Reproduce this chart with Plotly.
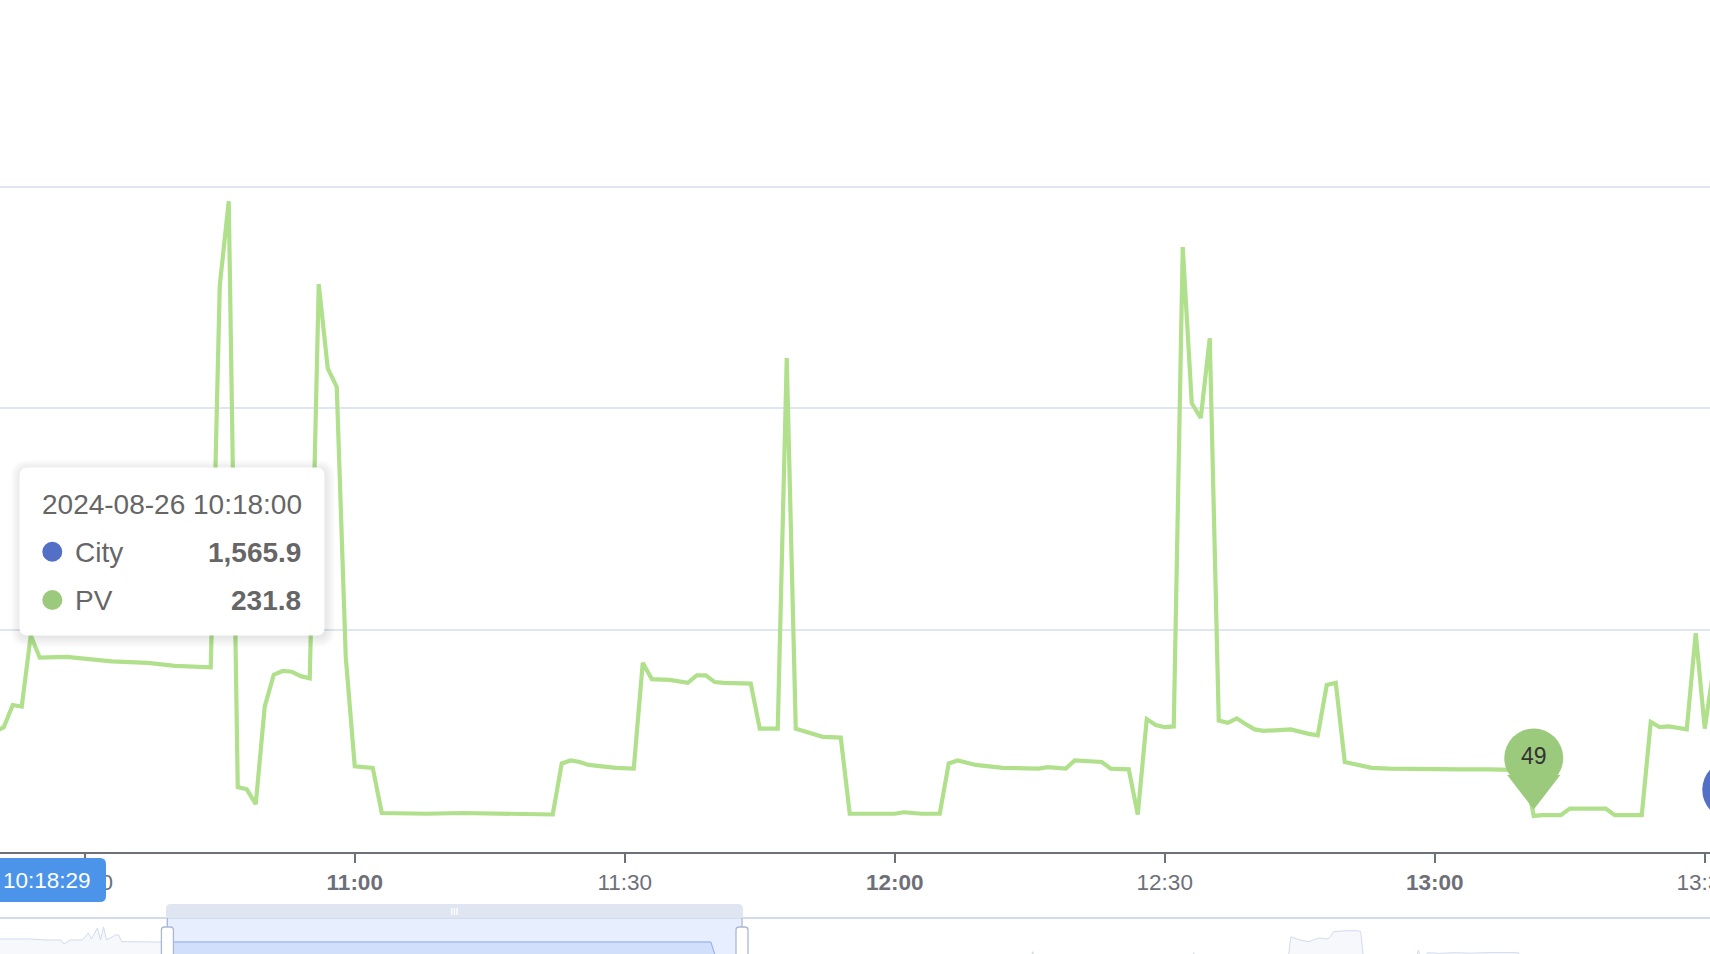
import plotly.graph_objects as go
import pandas as pd

W, H = 1710, 954
DAY = "2024-08-26"

# ---------------- data ----------------
pv_time = ["10:20", "10:21", "10:22", "10:23", "10:24", "10:25", "10:28", "10:33", "10:37", "10:40",
           "10:44", "10:45", "10:46", "10:47", "10:48", "10:49", "10:50", "10:51", "10:52", "10:53",
           "10:54", "10:55", "10:56", "10:57", "10:58", "10:59", "11:00", "11:02", "11:03", "11:08",
           "11:12", "11:16", "11:20", "11:22", "11:23", "11:24", "11:25", "11:26", "11:29", "11:31",
           "11:32", "11:33", "11:35", "11:37", "11:38", "11:39", "11:40", "11:41", "11:44", "11:45",
           "11:47", "11:48", "11:49", "11:51", "11:52", "11:54", "11:55", "11:56", "12:00", "12:01",
           "12:03", "12:05", "12:06", "12:07", "12:09", "12:12", "12:16", "12:17", "12:19", "12:20",
           "12:23", "12:24", "12:26", "12:27", "12:28", "12:29", "12:30", "12:31", "12:32", "12:33",
           "12:34", "12:35", "12:36", "12:37", "12:38", "12:39", "12:40", "12:41", "12:44", "12:46",
           "12:47", "12:48", "12:49", "12:50", "12:51", "12:53", "12:55", "12:59", "13:03", "13:06",
           "13:10", "13:11", "13:12", "13:14", "13:15", "13:19", "13:20", "13:23", "13:24", "13:25",
           "13:26", "13:28", "13:29", "13:30", "13:31"]
pv_value = [163, 169, 199, 197, 293, 263, 264, 258, 256, 252,
            250, 766, 880, 88, 85, 65, 197, 240, 245, 244,
            238, 235, 768, 654, 629, 264, 116, 114, 53, 52,
            53, 52, 52, 51, 120, 124, 122, 118, 114, 113,
            256, 234, 233, 229, 239, 239, 230, 229, 228, 167,
            167, 668, 167, 160, 156, 155, 52, 52, 52, 54,
            52, 52, 120, 124, 118, 114, 113, 115, 113, 124,
            122, 113, 112, 51, 180, 172, 169, 170, 818, 607,
            587, 695, 178, 175, 181, 173, 166, 164, 166, 160,
            158, 226, 229, 122, 119, 114, 113, 112, 112, 112,
            111, 49, 50, 50, 59, 59, 50, 50, 176, 169,
            170, 166, 296, 167, 250]

# City overview (dataZoom data shadow)
city_time = ["09:20", "09:36", "09:41", "09:46", "09:47", "09:49", "09:53", "09:55", "09:56", "09:58",
             "09:59", "10:00", "10:01", "10:04", "10:05", "10:06", "10:18", "13:20", "13:22", "15:05",
             "15:06", "15:07", "15:58", "15:59", "16:00", "16:30", "16:31", "16:34", "16:37", "16:40",
             "16:43", "16:44", "16:45", "16:49", "16:53", "16:54", "16:55", "17:12", "17:13", "17:14",
             "17:16", "17:20", "17:25", "17:30", "17:35", "17:40", "17:46", "17:47", "19:00"]
city_value = [1654, 1654, 1625, 1625, 1507, 1625, 1625, 1832, 1654, 1979,
              1625, 2009, 1625, 1773, 1773, 1575, 1566, 1566, 1000, 1000,
              1279, 1000, 1000, 1250, 1000, 1000, 1722, 1625, 1575, 1684,
              1654, 1722, 1870, 1900, 1900, 1870, 1000, 1000, 1329, 1000,
              1250, 1230, 1250, 1235, 1250, 1240, 1250, 1000, 1000]

tooltip_title = "2024-08-26 10:18:00"
tooltip_city = 1565.9
tooltip_pv = 231.8
pointer_label = "10:18:29"

pv_min_time, pv_min_value = "13:11", 49
city_mark_time, city_mark_value = "13:33", 6

x_ticks = ["10:30", "11:00", "11:30", "12:00", "12:30", "13:00", "13:30"]
y_grid = [300, 600, 900]

view_start, view_end = "10:20:35", "13:30:35"
overview_start, overview_end = "09:25:55", "18:49:01"

# ---------------- styling constants ----------------
PV_LINE = "#b0e08c"
PV_COLOR = "#9cca7c"
CITY_COLOR = "#5470c6"
AXIS = "#6e7079"
FONT = "Liberation Sans, Arial, Helvetica, sans-serif"

AXIS_PX = 852.2            # pixel row of value 0
PPU = 665.7 / 900          # pixels per unit
Y_TOP = 903
ydom = [(H - AXIS_PX) / H, (H - (AXIS_PX - Y_TOP * PPU)) / H]
sdom = [0, (H - 918) / H]
PIN_HEAD_UP = 58           # px from data point to pin head centre
PIN_R = 29.5


def T(t):
    return f"{DAY} {t}"


def px(x):
    return x / W


def py(y):
    return 1 - y / H


def rrect(x0, y0, x1, y1, r, top_only=False):
    rb = 0 if top_only else r
    pts = [("M", x0 + r, y0), ("L", x1 - r, y0), ("Q", x1, y0, x1, y0 + r),
           ("L", x1, y1 - rb), ("Q", x1, y1, x1 - rb, y1), ("L", x0 + rb, y1),
           ("Q", x0, y1, x0, y1 - rb), ("L", x0, y0 + r), ("Q", x0, y0, x0 + r, y0)]
    s = ""
    for p in pts:
        vals = p[1:]
        coords = [f"{px(vals[i]):.6f},{py(vals[i + 1]):.6f}" for i in range(0, len(vals), 2)]
        s += p[0] + " " + " ".join(coords) + " "
    return s + "Z"


o0 = pd.Timestamp(T(overview_start))
o1 = pd.Timestamp(T(overview_end))
v0 = pd.Timestamp(T(view_start))
v1 = pd.Timestamp(T(view_end))


def sx(t):
    return (t - o0) / (o1 - o0) * W


win_l, win_r = sx(v0), sx(v1)

fig = go.Figure()

# main PV line
fig.add_trace(go.Scatter(x=[T(t) for t in pv_time], y=pv_value, mode="lines",
                         line=dict(color=PV_LINE, width=4.2), xaxis="x", yaxis="y",
                         hoverinfo="skip"))

# PV min markPoint pin
fig.add_trace(go.Scatter(x=[T(pv_min_time)], y=[pv_min_value + 29.5 / PPU], mode="markers",
                         marker=dict(symbol="triangle-down", size=46, color=PV_COLOR, line=dict(width=0)),
                         cliponaxis=False, hoverinfo="skip", xaxis="x", yaxis="y"))
fig.add_trace(go.Scatter(x=[T(pv_min_time)], y=[pv_min_value + PIN_HEAD_UP / PPU], mode="markers+text",
                         marker=dict(symbol="circle", size=2 * PIN_R, color=PV_COLOR, line=dict(width=0)),
                         text=[f"{pv_min_value}"], textposition="middle center",
                         textfont=dict(size=23, color="#333", family=FONT),
                         cliponaxis=False, hoverinfo="skip", xaxis="x", yaxis="y"))

# slider data shadow (full, grey)
fig.add_trace(go.Scatter(x=[T(t) for t in city_time], y=city_value, mode="lines",
                         line=dict(color="#d2dbee", width=1), fill="tozeroy",
                         fillcolor="rgba(210,219,238,0.2)", xaxis="x2", yaxis="y2", hoverinfo="skip"))
# selected part (blue), clipped by its own axis domain
fig.add_trace(go.Scatter(x=[T(t) for t in city_time], y=city_value, mode="lines",
                         line=dict(color="#8fb0f7", width=1), fill="tozeroy",
                         fillcolor="rgba(143,176,247,0.2)", xaxis="x3", yaxis="y2", hoverinfo="skip"))

shapes = []
# City markPoint head (mostly outside the visible window; clipped by the plot area)
shapes.append(dict(type="circle", xref="x", yref="y", xsizemode="pixel", ysizemode="pixel",
                   xanchor=T(city_mark_time), yanchor=city_mark_value,
                   x0=-PIN_R, x1=PIN_R, y0=PIN_HEAD_UP - PIN_R, y1=PIN_HEAD_UP + PIN_R,
                   fillcolor=CITY_COLOR, line=dict(width=0), layer="above"))

shapes.append(dict(type="rect", xref="paper", yref="paper", x0=px(win_l), x1=px(win_r),
                   y0=0, y1=py(918), fillcolor="rgba(135,175,255,0.2)", line=dict(width=0), layer="below"))
shapes.append(dict(type="line", xref="paper", yref="paper", x0=0, x1=1, y0=py(918), y1=py(918),
                   line=dict(color="#d2dbee", width=2), layer="above"))
shapes.append(dict(type="path", xref="paper", yref="paper", path=rrect(win_l, 904, win_r, 918, 5, top_only=True),
                   fillcolor="#dfe5f1", line=dict(width=0), layer="above"))
cx = (win_l + win_r) / 2
for dx in (-2.6, 0, 2.6):
    shapes.append(dict(type="line", xref="paper", yref="paper", x0=px(cx + dx), x1=px(cx + dx),
                       y0=py(908), y1=py(915), line=dict(color="white", width=1.3), layer="above"))
for hx in (win_l + 1.4, win_r - 1):
    shapes.append(dict(type="line", xref="paper", yref="paper", x0=px(hx), x1=px(hx),
                       y0=py(918), y1=py(927), line=dict(color="#acb8d1", width=1.2), layer="above"))
    shapes.append(dict(type="path", xref="paper", yref="paper", path=rrect(hx - 6, 927, hx + 6, 990, 3),
                       fillcolor="white", line=dict(color="#acb8d1", width=1.3), layer="above"))

# tooltip shadow + box
for k in range(8):
    s = 1 + k * 1.3
    shapes.append(dict(type="path", xref="paper", yref="paper",
                       path=rrect(20 - s + 1, 468 - s + 2, 324 + s + 1, 635 + s + 2, 7 + s),
                       fillcolor="rgba(0,0,0,0.013)", line=dict(width=0), layer="above"))
shapes.append(dict(type="path", xref="paper", yref="paper", path=rrect(20, 468, 324, 635, 7),
                   fillcolor="white", line=dict(color="white", width=1), layer="above"))
for cy, col in ((551.7, CITY_COLOR), (600, PV_COLOR)):
    shapes.append(dict(type="circle", xref="paper", yref="paper", x0=px(42.3), x1=px(62.3),
                       y0=py(cy + 10), y1=py(cy - 10), fillcolor=col, line=dict(width=0), layer="above"))
shapes.append(dict(type="path", xref="paper", yref="paper", path=rrect(-12, 858, 106, 902, 6),
                   fillcolor="#4b94ea", line=dict(width=0), layer="above"))

TF = dict(size=28, color="#666", family=FONT)
annotations = [
    dict(text=tooltip_title, x=px(40), y=py(505), xanchor="left", yanchor="middle", font=TF),
    dict(text="City", x=px(73), y=py(552), xanchor="left", yanchor="middle", font=TF),
    dict(text=f"<b>{tooltip_city:,.1f}</b>", x=px(303), y=py(552), xanchor="right", yanchor="middle", font=TF),
    dict(text="PV", x=px(73), y=py(600), xanchor="left", yanchor="middle", font=TF),
    dict(text=f"<b>{tooltip_pv:,.1f}</b>", x=px(303), y=py(600), xanchor="right", yanchor="middle", font=TF),
    dict(text=pointer_label, x=px(93), y=py(880.5), xanchor="right", yanchor="middle",
         font=dict(size=22.5, color="white", family=FONT)),
]
for a in annotations:
    a.update(xref="paper", yref="paper", showarrow=False)

tick_text = [f"<b>{t}</b>" if t.endswith(":00") else t for t in x_ticks]

fig.update_layout(
    width=W, height=H,
    margin=dict(l=0, r=0, t=0, b=0, pad=0, autoexpand=False),
    paper_bgcolor="white", plot_bgcolor="rgba(0,0,0,0)",
    showlegend=False, hovermode=False,
    font=dict(family=FONT),
    xaxis=dict(type="date", range=[T(view_start), T(view_end)], domain=[0, 1], anchor="y",
               tickvals=[T(t) for t in x_ticks], ticktext=tick_text, ticklabeloverflow="allow",
               automargin=False,
               tickfont=dict(size=22.5, color=AXIS, family=FONT),
               ticks="outside", ticklen=9, tickwidth=1.5, tickcolor=AXIS,
               showline=True, linecolor=AXIS, linewidth=2, showgrid=False, zeroline=False),
    yaxis=dict(range=[0, Y_TOP], domain=ydom, anchor="x", tickvals=y_grid, showticklabels=False,
               automargin=False,
               showgrid=True, gridcolor="#e0e6f1", gridwidth=2, zeroline=False, showline=False, ticks=""),
    xaxis2=dict(type="date", range=[T(overview_start), T(overview_end)], domain=[0, 1], anchor="y2",
                visible=False, automargin=False),
    xaxis3=dict(type="date", range=[T(view_start), T(view_end)], domain=[win_l / W, win_r / W],
                anchor="y2", visible=False, automargin=False),
    yaxis2=dict(range=[1211, 2275], domain=sdom, anchor="x2", visible=False, automargin=False),
    shapes=shapes,
    annotations=annotations,
)

fig.write_html("out.html", config={"displayModeBar": False},
               post_script="document.body.style.margin='0';document.body.style.overflow='hidden';")
